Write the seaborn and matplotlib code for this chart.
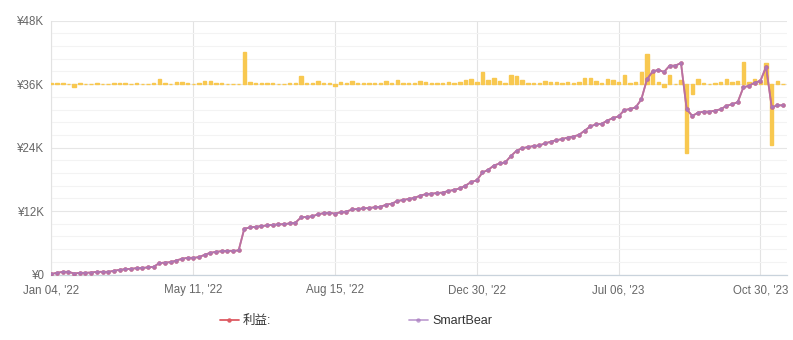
import matplotlib
matplotlib.use("Agg")
import matplotlib.pyplot as plt
import seaborn as sns
from matplotlib.ticker import FixedLocator, MultipleLocator
from matplotlib.lines import Line2D

# Cumulative profit (thousands of yen), one value per trading period
cumulative_k = [
    0.13, 0.32, 0.51, 0.51, 0.19, 0.32, 0.32, 0.38, 0.51, 0.51,
    0.51, 0.70, 0.89, 1.00, 1.08, 1.20, 1.27, 1.33, 1.46, 2.14,
    2.27, 2.33, 2.65, 2.97, 3.16, 3.16, 3.28, 3.73, 4.10, 4.29,
    4.41, 4.48, 4.48, 4.55, 8.66, 8.90, 9.03, 9.15, 9.28, 9.41,
    9.47, 9.53, 9.66, 9.79, 10.80, 10.90, 11.00, 11.40, 11.60, 11.70,
    11.50, 11.80, 11.90, 12.30, 12.40, 12.50, 12.60, 12.70, 12.80, 13.20,
    13.40, 13.90, 14.10, 14.30, 14.50, 14.90, 15.20, 15.30, 15.40, 15.50,
    15.80, 16.00, 16.30, 16.80, 17.50, 17.80, 19.30, 19.80, 20.60, 21.00,
    21.20, 22.40, 23.40, 23.90, 24.10, 24.30, 24.40, 24.80, 25.10, 25.40,
    25.60, 25.90, 26.10, 26.40, 27.20, 28.00, 28.40, 28.50, 29.10, 29.60,
    29.90, 31.10, 31.30, 31.60, 33.10, 36.90, 38.40, 38.70, 38.30, 39.50,
    39.50, 40.00, 31.25, 30.00, 30.60, 30.80, 30.80, 31.00, 31.25, 31.90,
    32.20, 32.60, 35.40, 35.70, 36.30, 36.60, 39.30, 31.60, 32.00, 32.00,
]

# Profit of each period (thousands of yen)
period_profit_k = [
    0.13, 0.19, 0.19, 0.00, -0.32, 0.13, 0.00, 0.06, 0.13, 0.00,
    0.00, 0.19, 0.19, 0.11, 0.08, 0.12, 0.07, 0.06, 0.13, 0.68,
    0.13, 0.06, 0.32, 0.32, 0.19, 0.00, 0.12, 0.45, 0.37, 0.19,
    0.12, 0.07, 0.00, 0.07, 4.11, 0.24, 0.13, 0.12, 0.13, 0.13,
    0.06, 0.06, 0.13, 0.13, 1.01, 0.10, 0.10, 0.40, 0.20, 0.10,
    -0.20, 0.30, 0.10, 0.40, 0.10, 0.10, 0.10, 0.10, 0.10, 0.40,
    0.20, 0.50, 0.20, 0.20, 0.20, 0.40, 0.30, 0.10, 0.10, 0.10,
    0.30, 0.20, 0.30, 0.50, 0.70, 0.30, 1.50, 0.50, 0.80, 0.40,
    0.20, 1.20, 1.00, 0.50, 0.20, 0.20, 0.10, 0.40, 0.30, 0.30,
    0.20, 0.30, 0.20, 0.30, 0.80, 0.80, 0.40, 0.10, 0.60, 0.50,
    0.30, 1.20, 0.20, 0.30, 1.50, 3.80, 1.50, 0.30, -0.40, 1.20,
    0.00, 0.50, -8.75, -1.25, 0.60, 0.20, 0.00, 0.20, 0.25, 0.65,
    0.30, 0.40, 2.80, 0.30, 0.60, 0.30, 2.70, -7.70, 0.40, 0.00,
]

period_index = list(range(len(cumulative_k)))

x_tick_positions = [0, 25, 50, 75, 100, 125]
x_tick_labels = ["Jan 04, '22", "May 11, '22", "Aug 15, '22",
                 "Dec 30, '22", "Jul 06, '23", "Oct 30, '23"]
y_ticks_k = [0, 12, 24, 36, 48]
y_tick_labels = ["¥0", "¥12K", "¥24K", "¥36K", "¥48K"]
series_names = ["利益:", "SmartBear"]

RED = "#dd5a62"
PURPLE = "#a87bc0"
YELLOW = "#f8c850"
TEXT = "#666666"

sns.set_theme(style="white")
plt.rcParams["font.family"] = ["Liberation Sans", "Noto Sans CJK SC", "DejaVu Sans"]

fig = plt.figure(figsize=(7.93, 3.40), dpi=100)
# bottom layer: grid, ticks and axis lines
ax = fig.add_axes([0.0649, 0.1926, 0.9276, 0.7465])
# middle layer: per-period bars on their own scale (zero at the ¥36K line)
ax_bar = ax.twinx()
# top layer: cumulative lines on the same scale as the ticks
ax_line = ax.twinx()

sns.barplot(x=period_index, y=period_profit_k, ax=ax_bar, color=YELLOW,
            saturation=1, width=0.6, errorbar=None,
            edgecolor=YELLOW, linewidth=1.0)
ax_bar.set_ylim(-24.25, 8.08)

sns.lineplot(x=period_index, y=cumulative_k, ax=ax_line, color=RED,
             linewidth=1.3, marker="o", markersize=3.2, markeredgewidth=0,
             legend=False)
sns.lineplot(x=period_index, y=cumulative_k, ax=ax_line, color=PURPLE,
             alpha=0.7, linewidth=1.3, marker="o", markersize=3.2,
             markeredgewidth=0, legend=False)
ax_line.set_ylim(0, 48)

for twin in (ax_bar, ax_line):
    twin.set_yticks([])
    twin.set_ylabel("")
    for s in twin.spines.values():
        s.set_visible(False)

ax.set_xlim(0, 129.7)
ax.set_ylim(0, 48)
ax.xaxis.set_major_locator(FixedLocator(x_tick_positions))
ax.set_xticklabels(x_tick_labels)
ax.set_yticks(y_ticks_k)
ax.set_yticklabels(y_tick_labels)
ax.yaxis.set_minor_locator(MultipleLocator(2.4))
ax.set_xlabel("")
ax.set_ylabel("")

ax.grid(axis="y", which="major", color="#e6e6e6", linewidth=0.8)
ax.grid(axis="y", which="minor", color="#f3f3f3", linewidth=0.8)
ax.grid(axis="x", which="major", color="#e3e3e3", linewidth=0.8)

ax.tick_params(axis="both", which="both", length=0, colors=TEXT, labelsize=8.3)
ax.tick_params(axis="y", pad=5)
ax.tick_params(axis="x", pad=7)
for name in ("top", "right"):
    ax.spines[name].set_visible(False)
ax.spines["left"].set_color("#e2e2e2")
ax.spines["left"].set_linewidth(0.8)
ax.spines["bottom"].set_color("#c9d3dc")
ax.spines["bottom"].set_linewidth(0.9)

handles = [
    Line2D([], [], color=RED, linewidth=1.3, marker="o", markersize=3.2,
           markeredgewidth=0),
    Line2D([], [], color=PURPLE, alpha=0.7, linewidth=1.3, marker="o",
           markersize=3.2, markeredgewidth=0),
]
fig.legend(handles, series_names, loc="center", bbox_to_anchor=(0.449, 0.056),
           ncol=2, frameon=False, fontsize=9, labelcolor="#333333",
           handlelength=1.5, handletextpad=0.35, columnspacing=11.0)

fig.savefig("out.png", dpi=100)
